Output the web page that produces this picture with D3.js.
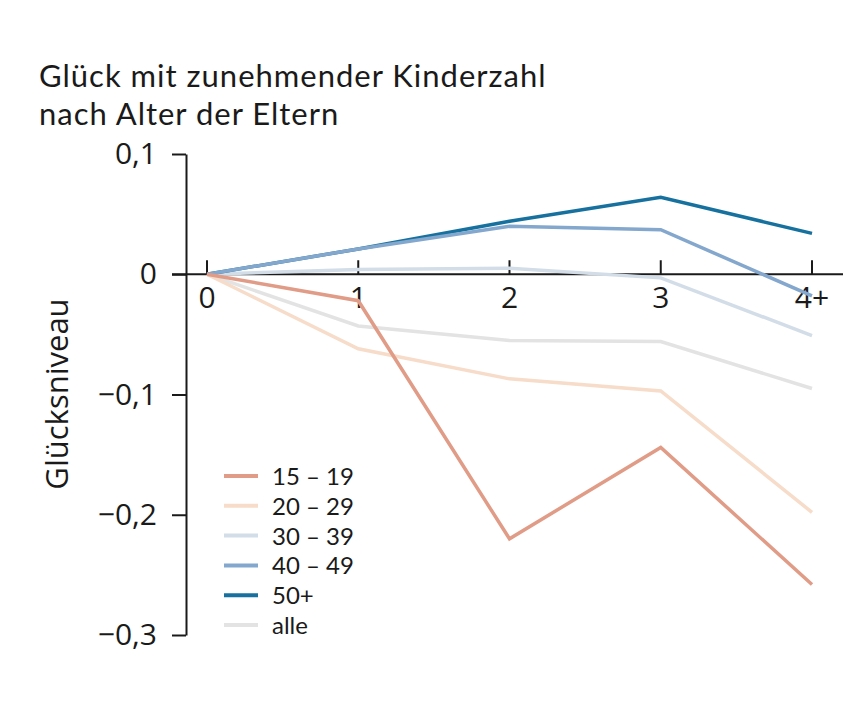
<!DOCTYPE html>
<html><head><meta charset="utf-8">
<script src="https://cdn.jsdelivr.net/npm/d3@7"></script>
<style>body{margin:0;background:#fff}svg{display:block}text{font-family:"Open Sans",sans-serif;fill:#1a1a1a}</style>
</head><body><svg id="c" width="866" height="724"></svg>
<script>
const categories = ["0","1","2","3","4+"];
const yTicks = [0.1, 0, -0.1, -0.2, -0.3];
const seriesNames = ["15 – 19","20 – 29","30 – 39","40 – 49","50+","alle"];
const seriesColors = ["#e09c86","#f6dcc9","#d2dde8","#83a7cd","#16719f","#e3e3e3"];
const s1519 = [0, -0.022, -0.220, -0.144, -0.258];
const s2029 = [0, -0.062, -0.087, -0.097, -0.198];
const s3039 = [0, 0.004, 0.005, -0.003, -0.051];
const s4049 = [0, 0.021, 0.040, 0.037, -0.018];
const s50 = [0, 0.021, 0.044, 0.064, 0.034];
const sAlle = [0, -0.043, -0.055, -0.056, -0.095];
const seriesValues = [s1519, s2029, s3039, s4049, s50, sAlle];
const drawOrder = [5, 2, 1, 4, 3, 0];

const svg = d3.select("#c");
const x = d3.scalePoint().domain(categories).range([207, 812]);
const y = d3.scaleLinear().domain([-0.3, 0.1]).range([635, 154]);
const fmt = v => v === 0 ? "0" : d3.format(".1f")(v).replace(".", ",").replace("-", "−");

// title
svg.append("text").attr("x", 39).attr("y", 87).style("font-family", "Lato, sans-serif")
  .style("font-size", "31px").style("letter-spacing", "1px").text("Glück mit zunehmender Kinderzahl");
svg.append("text").attr("x", 39).attr("y", 125).style("font-family", "Lato, sans-serif")
  .style("font-size", "31px").style("letter-spacing", "1px").text("nach Alter der Eltern");

// y axis
const yAxisG = svg.append("g").attr("transform", "translate(186,0)")
  .call(d3.axisLeft(y).tickValues(yTicks).tickFormat(fmt).tickSize(14).tickPadding(15).tickSizeOuter(0));
yAxisG.select(".domain").attr("stroke", "#1a1a1a").attr("stroke-width", 2);
yAxisG.selectAll(".tick line").attr("stroke", "#1a1a1a").attr("stroke-width", 2);
yAxisG.selectAll(".tick text").style("font-size", "30px").attr("fill", "#1a1a1a").attr("font-family", null);

// x axis at 0
const xAxisG = svg.append("g").attr("transform", `translate(0,${y(0)})`);
xAxisG.append("line").attr("x1", 172).attr("x2", 843).attr("stroke", "#1a1a1a").attr("stroke-width", 2);
xAxisG.selectAll("line.t").data(categories).join("line").attr("class","t")
  .attr("x1", d => x(d)).attr("x2", d => x(d)).attr("y1", 0).attr("y2", -14)
  .attr("stroke", "#1a1a1a").attr("stroke-width", 2);
xAxisG.selectAll("text").data(categories).join("text")
  .attr("x", d => x(d)).attr("y", 34).attr("text-anchor", "middle").style("font-size", "30px").text(d => d);

// y title
svg.append("text").attr("transform", "translate(68,394) rotate(-90)").attr("text-anchor", "middle")
  .style("font-size", "31px").text("Glücksniveau");

// lines
const line = d3.line().x((d, i) => x(categories[i])).y(d => y(d));
svg.append("g").selectAll("path").data(drawOrder).join("path")
  .attr("d", i => line(seriesValues[i])).attr("fill", "none")
  .attr("stroke", i => seriesColors[i]).attr("stroke-width", 3.5).attr("stroke-linejoin", "miter");

// legend
const lg = svg.append("g");
seriesNames.forEach((n, i) => {
  const yy = 476 + i * 29.8;
  lg.append("line").attr("x1", 224).attr("x2", 258).attr("y1", yy).attr("y2", yy)
    .attr("stroke", seriesColors[i]).attr("stroke-width", 4);
  lg.append("text").attr("x", 272).attr("y", yy + 9).style("font-family", "Lato, sans-serif")
    .style("font-size", "24px").text(n);
});
</script></body></html>
